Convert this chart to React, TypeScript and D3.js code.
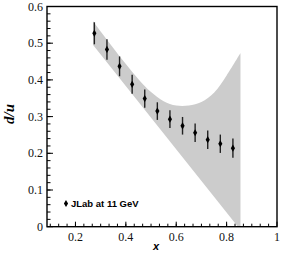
import * as d3 from 'd3';

// d/u data points (JLab at 11 GeV projection)
const xVals = [0.275, 0.325, 0.375, 0.425, 0.475, 0.525, 0.575, 0.625, 0.675, 0.725, 0.775, 0.825];
const ratio = [0.527, 0.483, 0.437, 0.388, 0.349, 0.315, 0.293, 0.275, 0.256, 0.237, 0.226, 0.214];
const errs = [0.03, 0.028, 0.027, 0.026, 0.025, 0.024, 0.024, 0.024, 0.025, 0.025, 0.025, 0.026];

// uncertainty band edges
const bandUpX = [0.27, 0.3, 0.35, 0.4, 0.45, 0.5, 0.55, 0.6, 0.65, 0.7, 0.75, 0.8, 0.855];
const bandUp = [0.56, 0.532, 0.487, 0.443, 0.402, 0.367, 0.342, 0.33, 0.33, 0.34, 0.365, 0.412, 0.473];
const bandLoX = [0.27, 0.845, 0.855];
const bandLo = [0.495, 0.0, 0.0];

const xTicks = [0.2, 0.4, 0.6, 0.8, 1];
const xTickLabels = ['0.2', '0.4', '0.6', '0.8', '1'];
const yTicks = [0, 0.1, 0.2, 0.3, 0.4, 0.5, 0.6];
const yTickLabels = ['0', '0.1', '0.2', '0.3', '0.4', '0.5', '0.6'];

const W = 281;
const H = 253;
const left = 47;
const right = 277;
const top = 6.5;
const bottom = 226.7;

export default function App() {
  const x = d3.scaleLinear().domain([0.087, 1.0]).range([left, right]);
  const y = d3.scaleLinear().domain([0, 0.6]).range([bottom, top]);

  const xMinor = d3.range(0.1, 1.0001, 1 / 30).filter(v => x(v) > left + 1 && x(v) < right - 1);
  const yMinor = d3.range(0, 0.6001, 0.02).filter(v => y(v) < bottom - 1 && y(v) > top + 1);

  const upper = d3.line<number>()
    .x((_, i) => x(bandUpX[i]))
    .y(d => y(d))
    .curve(d3.curveCatmullRom)(bandUp);
  const lowerPts = bandLoX.map((v, i) => [x(v), y(bandLo[i])]).reverse();
  const bandPath = upper + lowerPts.map(p => `L${p[0]},${p[1]}`).join('') + 'Z';

  const diamond = d3.symbol().type(d3.symbolDiamond).size(15)();

  return (
    <svg width={W} height={H} style={{ position: 'absolute', left: 0, top: 0, background: '#fff' }}>
      {/* band */}
      <path d={bandPath} fill="#cccccc" stroke="none" />

      {/* error bars + points */}
      {xVals.map((v, i) => (
        <g key={i}>
          <line x1={x(v)} x2={x(v)} y1={y(ratio[i] - errs[i])} y2={y(ratio[i] + errs[i])}
            stroke="#222" strokeWidth={1.4} />
          <path d={diamond} transform={`translate(${x(v)},${y(ratio[i])})`} fill="#000" />
        </g>
      ))}

      {/* minor ticks */}
      {xMinor.map((v, i) => (
        <line key={'xm' + i} x1={x(v)} x2={x(v)} y1={bottom} y2={bottom - 3} stroke="#000" strokeWidth={1} />
      ))}
      {yMinor.map((v, i) => (
        <line key={'ym' + i} x1={left} x2={left + 3.5} y1={y(v)} y2={y(v)} stroke="#000" strokeWidth={1} />
      ))}

      {/* major ticks + labels */}
      {xTicks.map((v, i) => (
        <g key={'x' + i}>
          <line x1={x(v)} x2={x(v)} y1={bottom} y2={bottom - 5} stroke="#000" strokeWidth={1} />
          <text x={x(v)} y={241} textAnchor="middle" fontFamily="Liberation Serif" fontSize={12} fill="#111">
            {xTickLabels[i]}
          </text>
        </g>
      ))}
      {yTicks.map((v, i) => (
        <g key={'y' + i}>
          <line x1={left} x2={left + 6} y1={y(v)} y2={y(v)} stroke="#000" strokeWidth={1} />
          <text x={left - 4} y={y(v) + 4} textAnchor="end" fontFamily="Liberation Serif" fontSize={12} fill="#111">
            {yTickLabels[i]}
          </text>
        </g>
      ))}

      {/* frame */}
      <rect x={left} y={top} width={right - left} height={bottom - top} fill="none" stroke="#000" strokeWidth={1.4} />

      {/* axis titles */}
      <text x={156} y={250} textAnchor="middle" fontFamily="Liberation Sans" fontWeight="bold"
        fontStyle="italic" fontSize={11}>x</text>
      <text transform={`translate(14,114) rotate(-90)`} textAnchor="middle" fontFamily="Liberation Serif"
        fontWeight="bold" fontStyle="italic" fontSize={15}>d/u</text>

      {/* legend */}
      <path d={diamond} transform="translate(66,203.5)" fill="#000" />
      <text x={71} y={207} fontFamily="Liberation Sans" fontWeight="bold" fontSize={9.5}>JLab at 11 GeV</text>
    </svg>
  );
}
